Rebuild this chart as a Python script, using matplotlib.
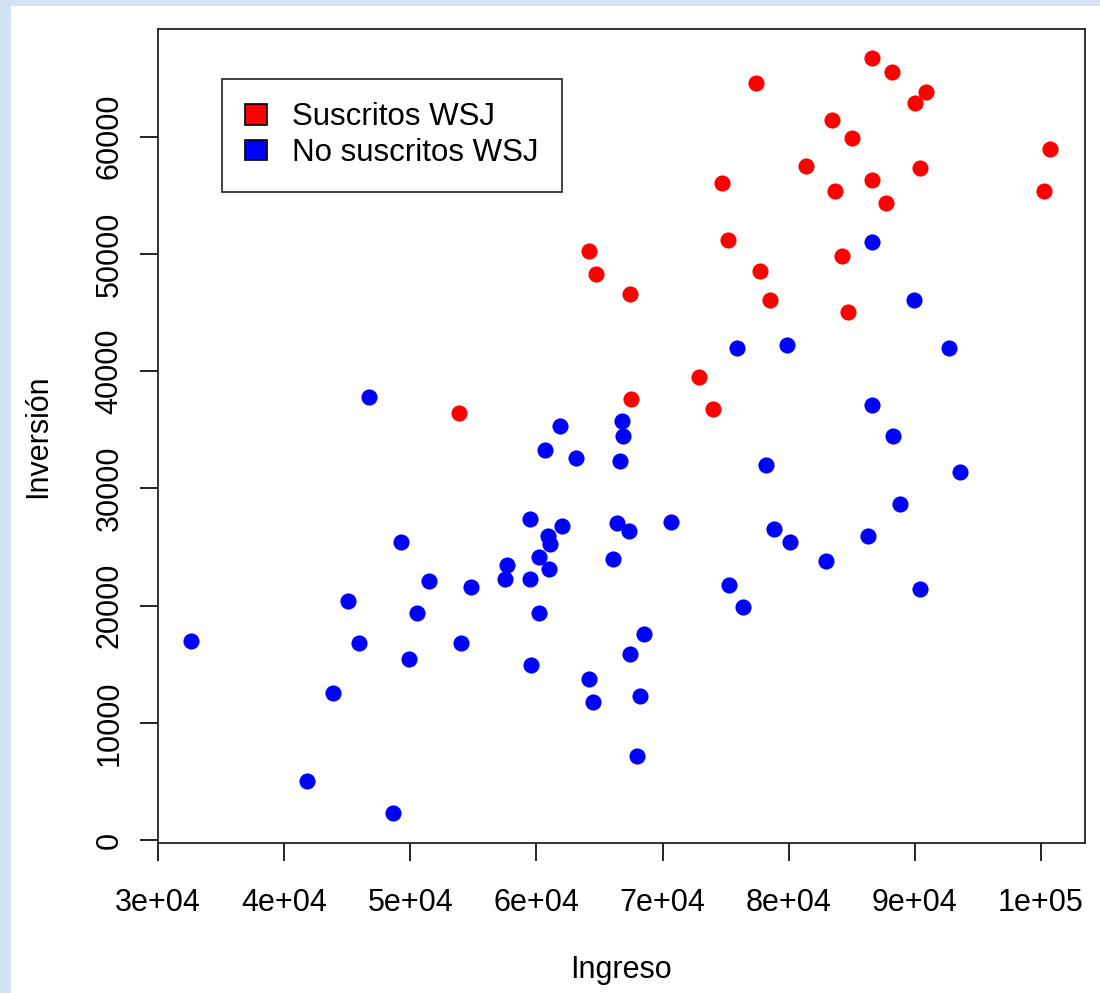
import matplotlib
matplotlib.use("Agg")
import matplotlib.pyplot as plt
from matplotlib.patches import Patch, Rectangle

plt.rcParams['font.family'] = ['Liberation Sans', 'DejaVu Sans']

# Suscritos WSJ (rojo)
ingreso_sus = [86600, 88200, 90900, 90000, 77400, 83400, 85000, 100700, 81400,
               90400, 74700, 86600, 83700, 100200, 87700, 75200, 84200, 64200,
               64700, 77700, 67400, 78500, 84700, 72900, 67500, 74000, 53900]
inversion_sus = [66700, 65500, 63800, 62900, 64600, 61400, 59900, 58900, 57500,
                 57300, 56000, 56300, 55400, 55400, 54300, 51200, 49800, 50200,
                 48300, 48500, 46600, 46100, 45000, 39500, 37600, 36800, 36400]

# No suscritos WSJ (azul)
ingreso_no = [46760, 61840, 86600, 89900, 75900, 79900, 92700, 86600, 66750,
              66900, 88300, 66600, 78200, 93600, 88800, 66400, 67300, 70700,
              78800, 80100, 82950, 86300, 66100, 75300, 76400, 90400, 68500,
              67400, 64200, 64500, 68200, 68000, 60700, 63100, 59460, 62000,
              60900, 61050, 60230, 57670, 61020, 57540, 59460, 49300, 51500,
              54800, 45040, 50560, 60230, 32630, 45970, 54030, 49930, 59600,
              43900, 41850, 48660]
inversion_no = [37800, 35300, 51000, 46100, 42000, 42200, 42000, 37100, 35700,
                34500, 34500, 32300, 32000, 31400, 28700, 27000, 26400, 27150,
                26500, 25400, 23800, 25950, 23950, 21750, 19900, 21400, 17600,
                15900, 13700, 11800, 12300, 7200, 33300, 32600, 27350, 26800,
                25900, 25250, 24100, 23500, 23100, 22250, 22250, 25400, 22100,
                21600, 20400, 19350, 19350, 16950, 16800, 16800, 15400, 14900,
                12500, 5060, 2330]

xticks = [30000, 40000, 50000, 60000, 70000, 80000, 90000, 100000]
xtick_labels = ["3e+04", "4e+04", "5e+04", "6e+04", "7e+04", "8e+04", "9e+04", "1e+05"]
yticks = [0, 10000, 20000, 30000, 40000, 50000, 60000]
ytick_labels = ["0", "10000", "20000", "30000", "40000", "50000", "60000"]
series_names = ["Suscritos WSJ", "No suscritos WSJ"]

fig = plt.figure(figsize=(11, 9.93), dpi=100, facecolor="#d3e3f3")
fig.patches.append(Rectangle((11 / 1100, 0), 1, 1 - 6 / 993, transform=fig.transFigure,
                             facecolor="white", edgecolor="none", zorder=-10))

ax = fig.add_axes([158 / 1100, 1 - 843.3 / 993, (1085 - 158) / 1100, (843.3 - 29.3) / 993])
ax.set_zorder(2)
ax.set_facecolor("white")

ax.scatter(ingreso_sus, inversion_sus, s=135, color="#ff0000", linewidths=0, zorder=3)
ax.scatter(ingreso_no, inversion_no, s=135, color="#0000ff", linewidths=0, zorder=3)

ax.set_xlim(30000, 103490)
ax.set_ylim(-280, 69150)

ax.set_xticks(xticks)
ax.set_xticklabels(xtick_labels)
ax.set_yticks(yticks)
ax.set_yticklabels(ytick_labels, rotation=90, va="center")
ax.tick_params(axis="both", direction="out", length=13, width=1.2, labelsize=22, color="black")
ax.tick_params(axis="x", pad=19)
ax.tick_params(axis="y", pad=11)
for sp in ax.spines.values():
    sp.set_linewidth(1.3)
    sp.set_color("#222222")

fig.text(621 / 1100, 1 - 970 / 993, "Ingreso", fontsize=22, ha="center", va="center")
fig.text(38 / 1100, 1 - 436 / 993, "Inversión", fontsize=22, ha="center", va="center",
         rotation=90)

handles = [Patch(facecolor="#ff0000", edgecolor="black", linewidth=1.2),
           Patch(facecolor="#0000ff", edgecolor="black", linewidth=1.2)]
leg = ax.legend(handles, series_names, loc="upper left",
                bbox_to_anchor=(222 / 1100, 1 - 79 / 993), bbox_transform=fig.transFigure,
                borderaxespad=0, fontsize=22.5, frameon=True, fancybox=False,
                handlelength=0.68, handleheight=0.62, handletextpad=0.8,
                borderpad=0.75, labelspacing=0.18)
leg.get_frame().set_edgecolor("black")
leg.get_frame().set_linewidth(1.3)

fig.savefig("out.png", dpi=100, facecolor=fig.get_facecolor())
